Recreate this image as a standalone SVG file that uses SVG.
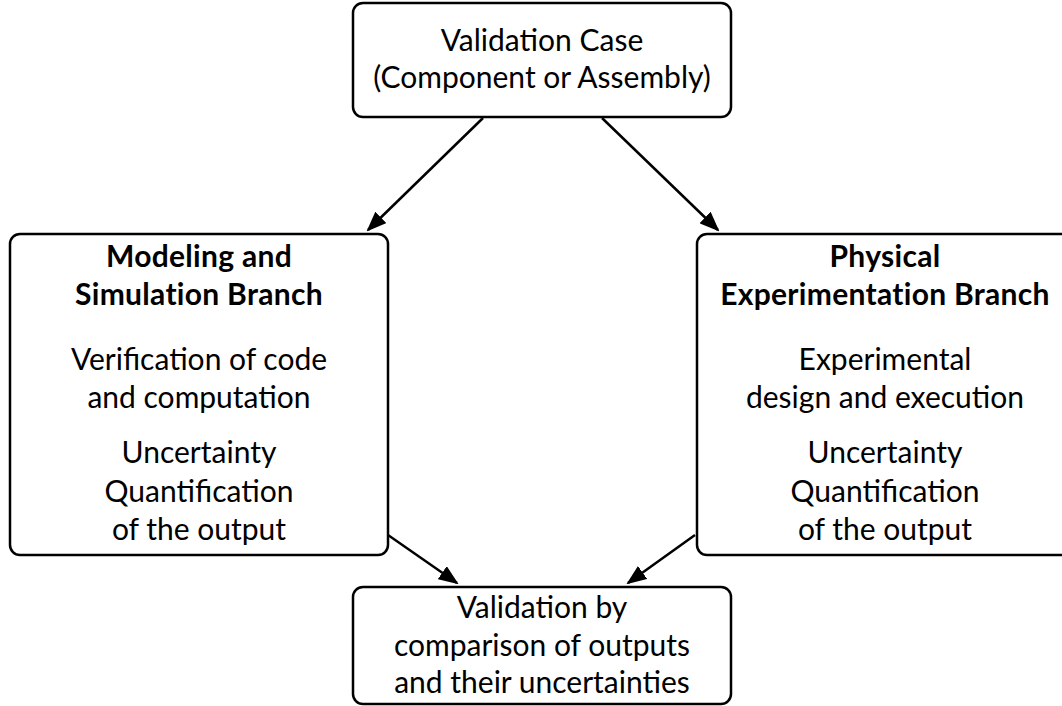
<svg xmlns="http://www.w3.org/2000/svg" width="1062" height="706" viewBox="0 0 1062 706">
<style>
.box{fill:#fff;stroke:#000;stroke-width:2.5}
.t{font-family:Lato,"Noto Sans",sans-serif;font-size:30px;fill:#000;text-anchor:middle}
.b{font-weight:bold;letter-spacing:0.3px}
.c{stroke:#000;stroke-width:2.5;fill:none}
</style>
<defs>
<marker id="ah" markerWidth="20" markerHeight="16" refX="18" refY="8" orient="auto" markerUnits="userSpaceOnUse" viewBox="0 0 20 16">
<path d="M0,0 L20,8 L0,16 z" fill="#000"/>
</marker>
</defs>
<rect width="1062" height="706" fill="#fff"/>
<g id="connectors">
<line class="c" x1="483" y1="118" x2="368" y2="230" marker-end="url(#ah)"/>
<line class="c" x1="602" y1="118" x2="718" y2="230" marker-end="url(#ah)"/>
<line class="c" x1="388" y1="535" x2="457" y2="583" marker-end="url(#ah)"/>
<line class="c" x1="695" y1="535" x2="628" y2="583" marker-end="url(#ah)"/>
</g>
<g id="top">
<rect class="box" x="353" y="3" width="378" height="114" rx="10"/>
<text class="t" x="542" y="51">Validation Case</text>
<text class="t" x="542" y="88">(Component or Assembly)</text>
</g>
<g id="left">
<rect class="box" x="10" y="234" width="378" height="321" rx="10"/>
<text class="t b" x="199" y="267">Modeling and</text>
<text class="t b" x="199" y="305">Simulation Branch</text>
<text class="t" x="199" y="370">Verification of code</text>
<text class="t" x="199" y="408">and computation</text>
<text class="t" x="199" y="463">Uncertainty</text>
<text class="t" x="199" y="502">Quantification</text>
<text class="t" x="199" y="540">of the output</text>
</g>
<g id="right">
<rect class="box" x="697" y="234" width="378" height="321" rx="10"/>
<text class="t b" x="885" y="267">Physical</text>
<text class="t b" x="885" y="305">Experimentation Branch</text>
<text class="t" x="885" y="370">Experimental</text>
<text class="t" x="885" y="408">design and execution</text>
<text class="t" x="885" y="463">Uncertainty</text>
<text class="t" x="885" y="502">Quantification</text>
<text class="t" x="885" y="540">of the output</text>
</g>
<g id="bottom">
<rect class="box" x="353" y="587" width="378" height="117" rx="10"/>
<text class="t" x="542" y="618">Validation by</text>
<text class="t" x="542" y="656">comparison of outputs</text>
<text class="t" x="542" y="693">and their uncertainties</text>
</g>
</svg>
